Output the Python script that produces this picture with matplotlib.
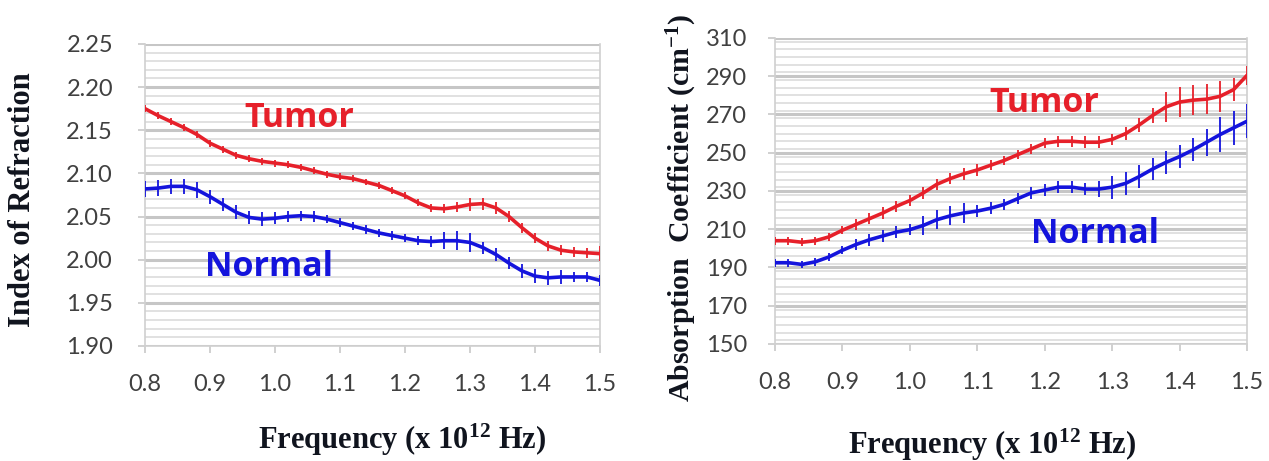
import numpy as np
import matplotlib
matplotlib.use("Agg")
import matplotlib.pyplot as plt
from matplotlib.ticker import MultipleLocator

plt.rcParams["mathtext.fontset"] = "custom"
plt.rcParams["mathtext.rm"] = "Liberation Serif:bold"
plt.rcParams["mathtext.bf"] = "Liberation Serif:bold"
plt.rcParams["mathtext.default"] = "bf"

# ---------------- data ----------------
freq = [0.80, 0.82, 0.84, 0.86, 0.88, 0.90, 0.92, 0.94, 0.96, 0.98,
        1.00, 1.02, 1.04, 1.06, 1.08, 1.10, 1.12, 1.14, 1.16, 1.18,
        1.20, 1.22, 1.24, 1.26, 1.28, 1.30, 1.32, 1.34, 1.36, 1.38,
        1.40, 1.42, 1.44, 1.46, 1.48, 1.50]

n_tumor = [2.175, 2.167, 2.160, 2.153, 2.145, 2.135, 2.128, 2.121, 2.117, 2.114,
           2.112, 2.110, 2.107, 2.103, 2.099, 2.096, 2.094, 2.090, 2.086, 2.080,
           2.074, 2.066, 2.060, 2.059, 2.061, 2.064, 2.065, 2.060, 2.050, 2.037,
           2.025, 2.016, 2.011, 2.009, 2.008, 2.007]
n_tumor_err = [0.004, 0.004, 0.004, 0.004, 0.004, 0.004, 0.004, 0.004, 0.004, 0.004,
               0.004, 0.004, 0.004, 0.004, 0.004, 0.004, 0.004, 0.004, 0.004, 0.004,
               0.004, 0.004, 0.005, 0.005, 0.006, 0.007, 0.007, 0.007, 0.006, 0.006,
               0.006, 0.006, 0.006, 0.006, 0.006, 0.009]

n_normal = [2.082, 2.083, 2.085, 2.085, 2.081, 2.073, 2.064, 2.055, 2.049, 2.047,
            2.048, 2.050, 2.051, 2.050, 2.047, 2.043, 2.039, 2.035, 2.031, 2.028,
            2.025, 2.022, 2.021, 2.022, 2.022, 2.020, 2.014, 2.006, 1.996, 1.987,
            1.981, 1.979, 1.980, 1.980, 1.980, 1.976]
n_normal_err = [0.009, 0.009, 0.009, 0.009, 0.009, 0.008, 0.008, 0.008, 0.008, 0.008,
                0.007, 0.006, 0.006, 0.006, 0.005, 0.005, 0.005, 0.005, 0.005, 0.005,
                0.005, 0.005, 0.006, 0.010, 0.011, 0.011, 0.007, 0.007, 0.007, 0.008,
                0.008, 0.008, 0.008, 0.006, 0.006, 0.006]

a_tumor = [204.0, 204.0, 203.2, 204.0, 206.0, 209.5, 212.5, 215.5, 218.5, 222.0,
           225.0, 229.0, 233.5, 236.5, 239.0, 241.0, 243.5, 246.0, 249.0, 252.0,
           255.0, 256.0, 256.0, 255.5, 255.5, 257.0, 260.0, 264.5, 269.5, 274.0,
           276.5, 277.5, 278.0, 279.5, 283.0, 290.5]
a_tumor_err = [2, 2, 2, 2, 2, 2, 3, 3, 3, 3,
               3, 3, 3, 3, 3, 3, 2.5, 2.5, 2.5, 2.5,
               2.5, 3, 3, 3, 3, 3, 3.5, 3.5, 4, 8,
               8, 8, 8, 8, 6, 5]

a_normal = [192.5, 192.5, 191.6, 193.0, 195.5, 199.0, 202.0, 204.5, 206.5, 208.5,
            209.8, 212.0, 215.0, 217.0, 218.5, 219.5, 221.0, 223.0, 226.0, 229.0,
            230.5, 232.0, 232.0, 231.0, 231.0, 232.0, 234.0, 237.5, 241.5, 245.0,
            248.0, 251.5, 255.5, 259.5, 263.0, 266.5]
a_normal_err = [2, 2, 2, 2, 2, 2, 3, 3, 3, 3,
                3, 5, 5, 5, 5, 3, 3, 3, 3, 3,
                3, 3, 3, 3, 4, 6, 6, 6, 6, 6,
                6, 6, 7, 9, 9, 9]

x_ticks = [0.8, 0.9, 1.0, 1.1, 1.2, 1.3, 1.4, 1.5]
left_yticks = [1.90, 1.95, 2.00, 2.05, 2.10, 2.15, 2.20, 2.25]
right_yticks = [150, 170, 190, 210, 230, 250, 270, 290, 310]

RED = "#e6202a"
BLUE = "#1414dc"
TICK_COLOR = "#404040"

fig = plt.figure(figsize=(12.69, 4.61), dpi=100)
ax1 = fig.add_axes([0.1143, 0.2495, 0.3585, 0.6551])
ax2 = fig.add_axes([0.6107, 0.2538, 0.3720, 0.6638])


def style(ax, yticks, yminor, fmt, ypad):
    ax.set_xlim(0.8, 1.5)
    ax.set_ylim(yticks[0], yticks[-1])
    ax.set_xticks(x_ticks)
    ax.set_xticklabels([f"{t:.1f}" for t in x_ticks])
    ax.set_yticks(yticks)
    ax.set_yticklabels([fmt.format(t) for t in yticks])
    ax.yaxis.set_minor_locator(MultipleLocator(yminor))
    ax.grid(which="major", axis="y", color="#c6c6c6", linewidth=2.2, zorder=0)
    ax.grid(which="minor", axis="y", color="#dcdcdc", linewidth=1.2, zorder=0)
    ax.set_axisbelow(True)
    ax.spines["top"].set_visible(False)
    for s in ["left", "right", "bottom"]:
        ax.spines[s].set_color("#d0d0d0")
        ax.spines[s].set_linewidth(1.2)
    ax.tick_params(axis="both", which="major", length=5, width=1.2,
                   color="#c8c8c8", labelcolor=TICK_COLOR, labelsize=17)
    ax.tick_params(axis="y", which="minor", length=0)
    ax.tick_params(axis="x", pad=15)
    ax.tick_params(axis="y", pad=ypad)
    for lab in ax.get_xticklabels() + ax.get_yticklabels():
        lab.set_family("Lato")


def series(ax, y, err, color):
    ax.errorbar(freq, y, yerr=err, color=color, linewidth=2.6,
                ecolor=color, elinewidth=1.3, capsize=0, zorder=3)


style(ax1, left_yticks, 0.01, "{:.2f}", 18)
series(ax1, n_tumor, n_tumor_err, RED)
series(ax1, n_normal, n_normal_err, BLUE)
ax1.text(1.037, 2.164, "Tumor", color=RED, fontsize=24.5, fontweight="bold",
         family="Open Sans", ha="center", va="center")
ax1.text(0.991, 1.992, "Normal", color=BLUE, fontsize=24.5, fontweight="bold",
         family="Open Sans", ha="center", va="center")

style(ax2, right_yticks, 4, "{:d}", 15)
series(ax2, a_tumor, a_tumor_err, RED)
series(ax2, a_normal, a_normal_err, BLUE)
ax2.text(1.200, 276.0, "Tumor", color=RED, fontsize=24.5, fontweight="bold",
         family="Open Sans", ha="center", va="center")
ax2.text(1.275, 207.5, "Normal", color=BLUE, fontsize=24.5, fontweight="bold",
         family="Open Sans", ha="center", va="center")

label_kw = dict(family="Liberation Serif", fontweight="bold", color="#10141e")
fig.text(23 / 1269, 1 - 200 / 461, "Index of Refraction", rotation=90,
         ha="center", va="center", fontsize=22, **label_kw)
fig.text(402 / 1269, 1 - 440 / 461, "Frequency (x 10$^{12}$ Hz)",
         ha="center", va="center", fontsize=22, **label_kw)
fig.text(682 / 1269, 1 - 208 / 461, "Absorption  Coefficient (cm$^{-1}$)",
         rotation=90, ha="center", va="center", fontsize=21.5, **label_kw)
fig.text(992 / 1269, 1 - 445 / 461, "Frequency (x 10$^{12}$ Hz)",
         ha="center", va="center", fontsize=22, **label_kw)

fig.savefig("out.png", dpi=100, facecolor="white")
